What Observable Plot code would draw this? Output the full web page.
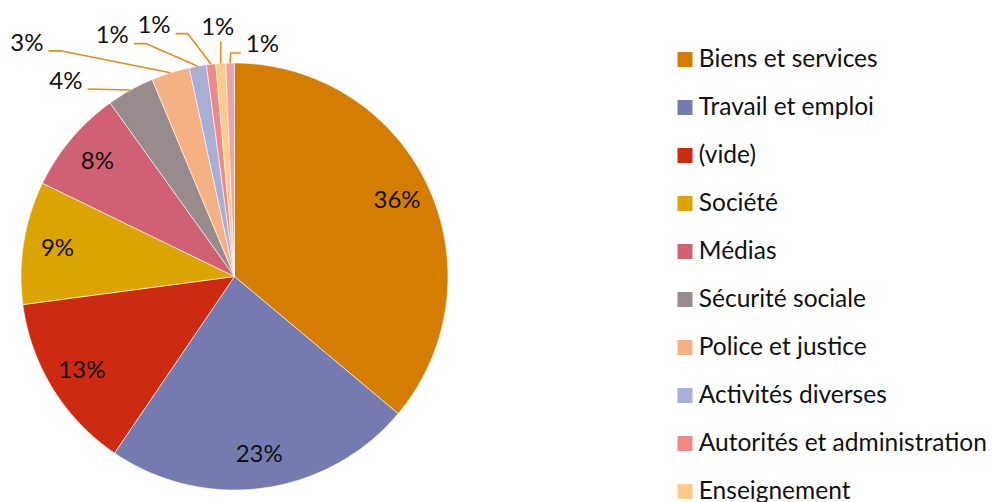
<!DOCTYPE html>
<html><head><meta charset="utf-8">
<script src="https://cdn.jsdelivr.net/npm/d3@7"></script>
<script src="https://cdn.jsdelivr.net/npm/@observablehq/plot@0.6"></script>
<style>
body{margin:0;background:#fff;}
#chart{position:relative;width:993px;height:502px;overflow:hidden;background:#fff;}
#pie{position:absolute;left:0;top:0;}
#legend{position:absolute;left:640px;top:0;}
</style></head><body>
<div id="chart"><div id="pie"></div><div id="legend"></div></div>
<script>
// ---- data ----
const categories = ["Biens et services","Travail et emploi","(vide)","Société","Médias","Sécurité sociale","Police et justice","Activités diverses","Autorités et administration","Enseignement","Autres"];
const values = [36.1, 23.4, 13.4, 9.3, 7.9, 3.6, 2.9, 1.3, 0.7, 0.75, 0.65];
const colors = ["#D57D00","#757BAE","#CC2B12","#DCA400","#D06175","#978B8E","#F5B184","#A9AED5","#EE8985","#FCCC88","#F2A1AA"];
const legendCategories = categories.slice(0, 10);

// ---- layout ----
const W = 993, H = 502, cx = 234, cy = 276, R = 213.5;
const font = "Lato, 'Open Sans', sans-serif";
const leaderColor = "#EE8C14";
// pixel offsets of leader elbows / ends from the slice edge (label placement)
const outsidePlacement = [
  {elbow: null,          end: [-43, -1],     anchor: "end"},
  {elbow: [-110, -22],   end: [-122, -22],   anchor: "end"},
  {elbow: [-52, -22.6],  end: [-64, -22.6],  anchor: "end"},
  {elbow: [-23.5, -30.7],end: [-35.5, -30.7],anchor: "end"},
  {elbow: null,          end: [0, -22],      anchor: "middle"},
  {elbow: [0.6, -10],    end: [10.6, -10],   anchor: "start"}
];

const total = d3.sum(values);
let acc = 0;
const slices = categories.map((c, i) => {
  const a0 = acc / total * 2 * Math.PI; acc += values[i];
  const a1 = acc / total * 2 * Math.PI;
  return {cat: c, value: values[i], a0, a1, mid: (a0 + a1) / 2, label: Math.round(values[i]) + "%"};
});

const polys = slices.flatMap(s => {
  const n = Math.max(2, Math.ceil((s.a1 - s.a0) / (Math.PI / 360)));
  const pts = [{cat: s.cat, x: 0, y: 0}];
  for (let k = 0; k <= n; k++) {
    const a = s.a0 + (s.a1 - s.a0) * k / n;
    pts.push({cat: s.cat, x: Math.sin(a), y: Math.cos(a)});
  }
  pts.push({cat: s.cat, x: 0, y: 0});
  return pts;
});

const inside = slices.slice(0, 5).map(s => ({label: s.label, x: 0.84 * Math.sin(s.mid), y: 0.84 * Math.cos(s.mid)}));

const leaders = [], outside = [];
slices.slice(5).forEach((s, i) => {
  const p = outsidePlacement[i];
  const ex = Math.sin(s.mid), ey = Math.cos(s.mid);
  const u = ([dx, dy]) => ({x: ex + dx / R, y: ey - dy / R});
  leaders.push({cat: s.cat, x: ex, y: ey});
  if (p.elbow) leaders.push({cat: s.cat, ...u(p.elbow)});
  const e = u(p.end);
  leaders.push({cat: s.cat, ...e});
  let t;
  if (p.anchor === "end") t = {x: e.x - 5 / R, y: e.y + 8 / R};
  else if (p.anchor === "start") t = {x: e.x + 5 / R, y: e.y + 9 / R};
  else t = {x: e.x - 3 / R, y: e.y + 14 / R};
  outside.push({label: s.label, anchor: p.anchor, ...t});
});

const colorScale = {domain: categories, range: colors};
const labelSize = 24;

const pie = Plot.plot({
  width: W, height: H, margin: 0,
  x: {domain: [-1, 1], range: [cx - R, cx + R], axis: null},
  y: {domain: [-1, 1], range: [cy + R, cy - R], axis: null},
  color: colorScale,
  style: {fontFamily: font, background: "transparent"},
  marks: [
    Plot.line(polys, {x: "x", y: "y", z: "cat", fill: "cat", stroke: "white", strokeWidth: 0.6, strokeLinejoin: "miter", curve: "linear"}),
    Plot.line(leaders, {x: "x", y: "y", z: "cat", stroke: leaderColor, strokeWidth: 1.6, strokeLinecap: "butt", strokeLinejoin: "miter"}),
    Plot.text(inside, {x: "x", y: "y", text: "label", fontSize: labelSize, fill: "#111", textAnchor: "middle", lineAnchor: "middle"}),
    Plot.text(outside.filter(d => d.anchor === "end"), {x: "x", y: "y", text: "label", fontSize: labelSize, fill: "#111", textAnchor: "end", lineAnchor: "middle"}),
    Plot.text(outside.filter(d => d.anchor === "start"), {x: "x", y: "y", text: "label", fontSize: labelSize, fill: "#111", textAnchor: "start", lineAnchor: "middle"}),
    Plot.text(outside.filter(d => d.anchor === "middle"), {x: "x", y: "y", text: "label", fontSize: labelSize, fill: "#111", textAnchor: "middle", lineAnchor: "middle"})
  ]
});
document.getElementById("pie").append(pie);

const legend = Plot.plot({
  width: 353, height: H, margin: 0,
  y: {type: "point", domain: legendCategories, range: [58.2, 492.5], padding: 0, axis: null},
  color: colorScale,
  style: {fontFamily: font, background: "transparent", overflow: "hidden"},
  marks: [
    Plot.dot(legendCategories, {y: d => d, fill: d => d, symbol: "square", r: 8.46, frameAnchor: "left", dx: 44.5}),
    Plot.text(legendCategories, {y: d => d, text: d => d, frameAnchor: "left", dx: 58.3, textAnchor: "start", lineAnchor: "middle", fontSize: 24.5, fill: "#111"})
  ]
});
document.getElementById("legend").append(legend);
</script>
</body></html>
